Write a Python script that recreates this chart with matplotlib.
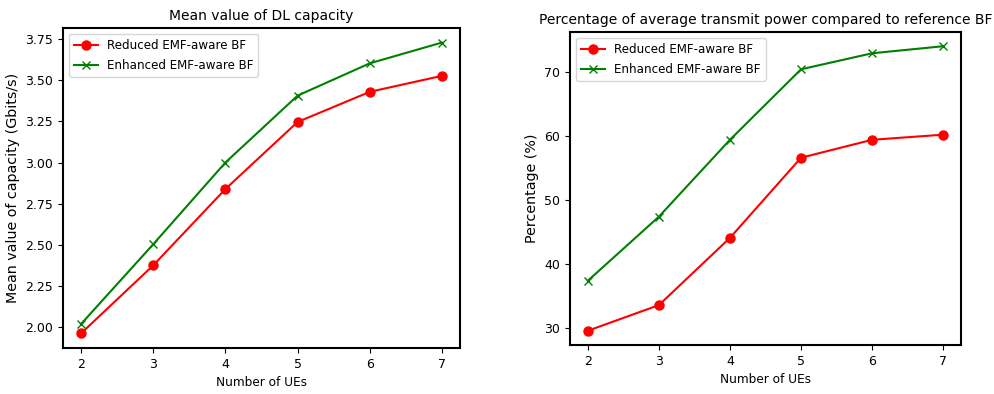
import matplotlib
matplotlib.use("Agg")
import matplotlib.pyplot as plt

# number of UEs
num_ues = [2, 3, 4, 5, 6, 7]

# mean DL capacity (Gbits/s)
cap_reduced = [1.963, 2.376, 2.839, 3.246, 3.429, 3.526]
cap_enhanced = [2.02, 2.504, 3.0, 3.406, 3.602, 3.728]

# percentage of average transmit power vs reference BF (%)
pct_reduced = [29.6, 33.6, 44.1, 56.6, 59.4, 60.2]
pct_enhanced = [37.4, 47.4, 59.4, 70.4, 72.9, 74.0]

label_reduced = "Reduced EMF-aware BF"
label_enhanced = "Enhanced EMF-aware BF"

plt.rcParams["font.family"] = "DejaVu Sans"

fig = plt.figure(figsize=(9.95, 3.94), dpi=100)
ax1 = fig.add_axes([0.0633, 0.1168, 0.399, 0.8121])
ax2 = fig.add_axes([0.5729, 0.1244, 0.3929, 0.7944])


def draw(ax, y_red, y_green, title, ylabel):
    ax.plot(num_ues, y_red, color="red", marker="o", markersize=6.5,
            linewidth=1.5, label=label_reduced)
    ax.plot(num_ues, y_green, color="green", marker="x", markersize=6,
            linewidth=1.5, label=label_enhanced)
    ax.set_title(title, fontsize=10)
    ax.set_xlabel("Number of UEs", fontsize=8.7)
    ax.set_ylabel(ylabel, fontsize=10.3)
    ax.tick_params(labelsize=9)
    ax.set_xticks(num_ues)
    for s in ax.spines.values():
        s.set_linewidth(1.5)
    ax.legend(loc="upper left", fontsize=8.6, labelspacing=0.6)


draw(ax1, cap_reduced, cap_enhanced, "Mean value of DL capacity",
     "Mean value of capacity (Gbits/s)")
draw(ax2, pct_reduced, pct_enhanced,
     "Percentage of average transmit power compared to reference BF",
     "Percentage (%)")

fig.savefig("out.png", dpi=100)
